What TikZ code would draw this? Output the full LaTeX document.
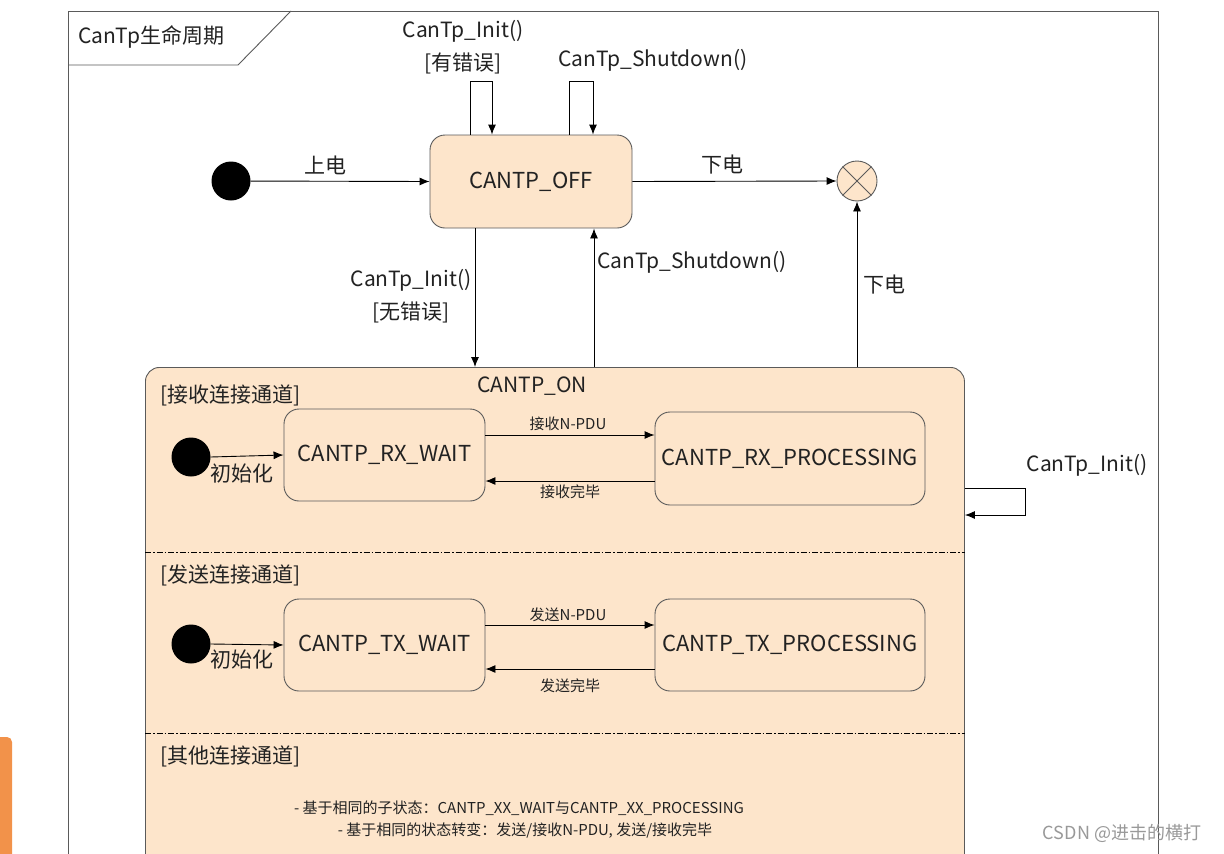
\documentclass[tikz,border=0pt]{standalone}
\usepackage{fontspec}
\setmainfont{Noto Sans CJK SC}
\usetikzlibrary{arrows.meta}
\definecolor{peach}{HTML}{FDE5CB}
\definecolor{bord}{HTML}{5A5A5A}
\definecolor{txt}{HTML}{222222}
\definecolor{orangebar}{HTML}{F2924A}
\begin{document}
\begin{tikzpicture}[x=1pt,y=-1pt,
  arr/.style={draw=black, line width=0.9pt, -{Latex[length=10pt,width=8pt]}},
  state/.style={draw=bord, line width=0.9pt, fill=peach, rounded corners=15pt, font=\fontsize{22}{26}\selectfont, text=txt, inner sep=0pt},
  lbl/.style={font=\fontsize{21}{25}\selectfont, text=txt, inner sep=0pt},
  small/.style={font=\fontsize{15}{18}\selectfont, text=txt, inner sep=0pt},
  dot/.style={circle, fill=black, inner sep=0pt},
  divider/.style={draw=black, line width=0.8pt, dash pattern=on 6pt off 2pt on 1.5pt off 2pt}
]
\useasboundingbox (0,0) rectangle (1224,854);
\clip (0,0) rectangle (1224,854);
\fill[white] (0,0) rectangle (1224,854);

% outer frame
\draw[bord, line width=0.9pt] (68,900) -- (68,11) -- (1158,11) -- (1158,900);
\draw[bord, line width=0.9pt] (68,65) -- (238,65) -- (291,11);
\node[lbl] (title) [anchor=west] at (78,37) {CanTp生命周期};

% orange bar
\fill[orangebar, rounded corners=5pt] (-6,737) rectangle (12,900);

% CANTP_ON region
\node[state, anchor=north west, minimum width=819pt, minimum height=600pt, rounded corners=14pt] (on) at (145,367) {};
\node[lbl] (onlbl) at (532,386) {CANTP\_ON};
\draw[divider] (on.west |- 0,552) -- (on.east |- 0,552);
\draw[divider] (on.west |- 0,733) -- (on.east |- 0,733);
\node[lbl, anchor=west] (rxreg) at (160,395) {[接收连接通道]};
\node[lbl, anchor=west] (txreg) at (160,575) {[发送连接通道]};
\node[lbl, anchor=west] (otreg) at (160,756) {[其他连接通道]};

% top level states
\node[dot, minimum size=39pt] (init0) at (231,181) {};
\node[state, minimum width=202pt, minimum height=93pt] (off) at (531,181.5) {CANTP\_OFF};
\node[circle, draw=bord, line width=0.9pt, fill=peach, minimum size=40pt, inner sep=0pt] (fin) at (857,181) {};
\draw[bord, line width=0.9pt] (fin.north west) -- (fin.south east);
\draw[bord, line width=0.9pt] (fin.north east) -- (fin.south west);

% top-level transitions
\draw[arr] (init0) -- (off.west);
\node[lbl] (l1) at (325,165) {上电};
\draw[arr] (off.east) -- (fin.west);
\node[lbl] (l2) at (722,165) {下电};

\draw[arr] ([xshift=-61pt]off.north) -- ++(0,-53) -| ([xshift=-39pt]off.north);
\node[lbl] (l3) at (463,31) {CanTp\_Init()};
\node[lbl] (l4) at (463,63) {[有错误]};
\draw[arr] ([xshift=38pt]off.north) -- ++(0,-53) -| ([xshift=62pt]off.north);
\node[lbl] (l5) at (653,60) {CanTp\_Shutdown()};

\draw[arr] ([xshift=-56pt]off.south) -- ([xshift=-56pt]off.south |- on.north);
\node[lbl] (l6) at (411,280) {CanTp\_Init()};
\node[lbl] (l7) at (411,312) {[无错误]};
\draw[arr] ([xshift=63pt]off.south |- on.north) -- ([xshift=63pt]off.south);
\node[lbl] (l8) at (692,262) {CanTp\_Shutdown()};
\draw[arr] (fin.south |- on.north) -- (fin.south);
\node[lbl] (l9) at (884,285) {下电};

\coordinate (lp1) at ([yshift=-121pt]on.north east);
\coordinate (lp2) at ([yshift=-148pt]on.north east);
\draw[arr] (lp1) -- ++(61,0) -- ++(0,27) -- (lp2);
\node[lbl] (l10) at (1087,465) {CanTp\_Init()};

% RX channel
\node[dot, minimum size=39pt] (rxi) at (191,457) {};
\node[state, minimum width=201pt, minimum height=92pt] (rxw) at (384.5,455) {CANTP\_RX\_WAIT};
\node[state, minimum width=270pt, minimum height=93pt] (rxp) at (790,458.5) {CANTP\_RX\_PROCESSING};
\draw[arr] (rxi.east) -- (rxw.west);
\node[lbl] (l11) at (242,474) {初始化};
\draw[arr] ([yshift=20pt]rxw.east) -- ([yshift=20pt]rxw.east -| rxp.west);
\node[small] (l12) at (568,424) {接收N-PDU};
\draw[arr] ([yshift=-26pt]rxw.east -| rxp.west) -- ([yshift=-26pt]rxw.east);
\node[small] (l13) at (570,492) {接收完毕};

% TX channel
\node[dot, minimum size=39pt] (txi) at (191,644) {};
\node[state, minimum width=201pt, minimum height=92pt] (txw) at (384.5,645) {CANTP\_TX\_WAIT};
\node[state, minimum width=270pt, minimum height=92pt] (txp) at (790,645) {CANTP\_TX\_PROCESSING};
\draw[arr] (txi.east) -- (txw.west);
\node[lbl] (l14) at (242,660) {初始化};
\draw[arr] ([yshift=20pt]txw.east) -- ([yshift=20pt]txw.east -| txp.west);
\node[small] (l15) at (568,615) {发送N-PDU};
\draw[arr] ([yshift=-24pt]txw.east -| txp.west) -- ([yshift=-24pt]txw.east);
\node[small] (l16) at (570,686) {发送完毕};

% other channel notes
\node[small] (n1) at (519,808) {- 基于相同的子状态：CANTP\_XX\_WAIT与CANTP\_XX\_PROCESSING};
\node[small] (n2) at (525,831) {- 基于相同的状态转变：发送/接收N-PDU, 发送/接收完毕};

% watermark
\node[font=\fontsize{18}{21}\selectfont, text=gray!80, inner sep=0pt] (wm) at (1122,833) {CSDN @进击的横打};
\end{tikzpicture}
\end{document}
